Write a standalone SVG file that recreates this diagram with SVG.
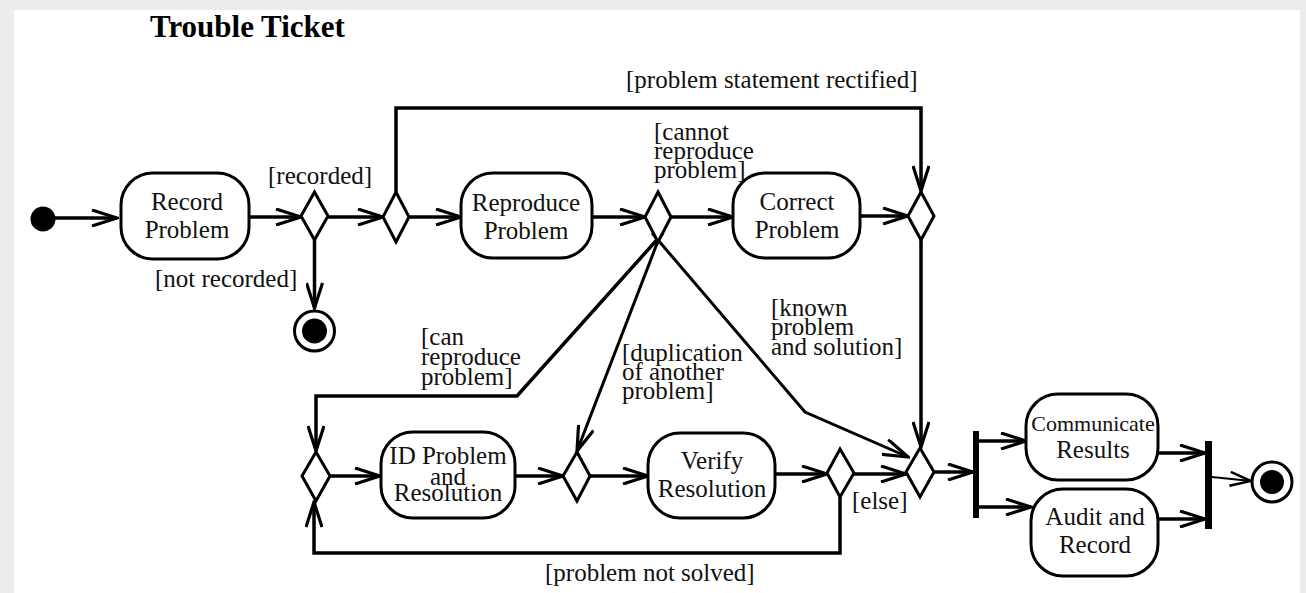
<svg xmlns="http://www.w3.org/2000/svg" width="1306" height="593" viewBox="0 0 1306 593">
<style>
.bg{fill:#ececec}
.page{fill:#fff}
.act{fill:#fff;stroke:#000;stroke-width:3}
.dec{fill:#fff;stroke:#000;stroke-width:3}
.bar{fill:#000}
.t{font-family:"Liberation Serif","Times New Roman",serif;font-size:25px;fill:#111}
.ts{font-family:"Liberation Serif","Times New Roman",serif;font-size:22px;fill:#111}
.c{text-anchor:middle}
.title{font-family:"Liberation Serif","Times New Roman",serif;font-size:31px;font-weight:bold;fill:#000}
.e{fill:none;stroke:#000;stroke-width:3.5;stroke-linejoin:miter}
.m{fill:none;stroke:#000;stroke-width:3}
.thin{fill:none;stroke:#000;stroke-width:2}
</style>
<defs>
<marker id="ah" viewBox="0 0 28 18" markerWidth="28" markerHeight="18" refX="26" refY="9" orient="auto" markerUnits="userSpaceOnUse">
<path d="M1,1 L26,9 L1,17" fill="none" stroke="#000" stroke-width="3.2"/>
</marker>
<marker id="ahs" viewBox="0 0 24 16" markerWidth="24" markerHeight="16" refX="22" refY="8" orient="auto" markerUnits="userSpaceOnUse">
<path d="M1,1 L22,8 L1,15" fill="none" stroke="#000" stroke-width="2.5"/>
</marker>
</defs>
<rect class="bg" x="0" y="0" width="1306" height="593"/>
<rect class="page" x="14" y="10" width="1286" height="583"/>
<text class="title" x="150" y="37">Trouble Ticket</text>

<g id="connectors">
<line class="e" x1="55" y1="218" x2="117" y2="218" marker-end="url(#ah)"/>
<line class="e" x1="249" y1="217" x2="301" y2="217" marker-end="url(#ah)"/>
<line class="e" x1="314.5" y1="240" x2="314.5" y2="308" marker-end="url(#ah)"/>
<line class="e" x1="328" y1="217" x2="383" y2="217" marker-end="url(#ah)"/>
<polyline class="e" points="396,192 396,108 921,108 921,191" marker-end="url(#ah)"/>
<line class="e" x1="409" y1="217" x2="461" y2="217" marker-end="url(#ah)"/>
<line class="e" x1="592" y1="217" x2="645" y2="217" marker-end="url(#ah)"/>
<line class="e" x1="671" y1="217" x2="733" y2="217" marker-end="url(#ah)"/>
<line class="e" x1="860" y1="216" x2="908" y2="216" marker-end="url(#ah)"/>
<line class="e" x1="921" y1="240" x2="921" y2="447" marker-end="url(#ah)"/>
<polyline class="e" points="663,233 517,396 316,396 316,451" marker-end="url(#ah)"/>
<line class="m" x1="658" y1="241" x2="577" y2="451" marker-end="url(#ah)"/>
<polyline class="m" points="652,233 805,412 908,457" marker-end="url(#ah)"/>
<line class="e" x1="330" y1="476" x2="380" y2="476" marker-end="url(#ah)"/>
<line class="e" x1="515" y1="476" x2="563" y2="476" marker-end="url(#ah)"/>
<line class="e" x1="590" y1="476" x2="648" y2="476" marker-end="url(#ah)"/>
<line class="e" x1="775" y1="474" x2="827" y2="474" marker-end="url(#ah)"/>
<line class="e" x1="854" y1="474" x2="906" y2="474" marker-end="url(#ah)"/>
<polyline class="e" points="840,497 840,553 314,553 314,502" marker-end="url(#ah)"/>
<line class="e" x1="934" y1="472" x2="973" y2="472" marker-end="url(#ah)"/>
<line class="e" x1="979" y1="441" x2="1026" y2="441" marker-end="url(#ah)"/>
<line class="e" x1="979" y1="507" x2="1031" y2="507" marker-end="url(#ah)"/>
<line class="e" x1="1158" y1="453" x2="1205" y2="453" marker-end="url(#ah)"/>
<line class="e" x1="1158" y1="519" x2="1205" y2="519" marker-end="url(#ah)"/>
<line class="thin" x1="1212" y1="477" x2="1251" y2="481" marker-end="url(#ahs)"/>
</g>

<g id="labels">
<text class="t" x="268" y="184">[recorded]</text>
<text class="t" x="155" y="287">[not recorded]</text>
<text class="t" x="626" y="88">[problem statement rectified]</text>
<text class="t" x="654" y="140">[cannot<tspan x="654" dy="19">reproduce</tspan><tspan x="654" dy="19">problem]</tspan></text>
<text class="t" x="421" y="345">[can<tspan x="421" dy="20">reproduce</tspan><tspan x="421" dy="20">problem]</tspan></text>
<text class="t" x="622" y="361">[duplication<tspan x="622" dy="19">of another</tspan><tspan x="622" dy="19">problem]</tspan></text>
<text class="t" x="771" y="316">[known<tspan x="771" dy="19">problem</tspan><tspan x="771" dy="20">and solution]</tspan></text>
<text class="t" x="852" y="509">[else]</text>
<text class="t" x="545" y="581">[problem not solved]</text>
</g>

<g id="start"><circle cx="43" cy="219" r="12.5" fill="#000"/></g>
<g id="end1"><circle cx="314.5" cy="331" r="20" fill="#fff" stroke="#000" stroke-width="3"/><circle cx="314.5" cy="331" r="12.5" fill="#000"/></g>
<g id="end2"><circle cx="1272" cy="482" r="20" fill="#fff" stroke="#000" stroke-width="3"/><circle cx="1272" cy="482" r="12" fill="#000"/></g>

<g id="record"><rect class="act" x="121" y="173" width="128" height="86" rx="32"/><text class="t c" x="187" y="210">Record<tspan x="187" dy="28">Problem</tspan></text></g>
<g id="reproduce"><rect class="act" x="461" y="173" width="131" height="85" rx="32"/><text class="t c" x="526" y="211">Reproduce<tspan x="526" dy="28">Problem</tspan></text></g>
<g id="correct"><rect class="act" x="733" y="173" width="127" height="85" rx="32"/><text class="t c" x="797" y="210">Correct<tspan x="797" dy="28">Problem</tspan></text></g>
<g id="idproblem"><rect class="act" x="381" y="432" width="134" height="86" rx="32"/><text class="t c" x="448" y="464">ID Problem<tspan x="448" dy="21">and</tspan><tspan x="448" dy="16">Resolution</tspan></text></g>
<g id="verify"><rect class="act" x="648" y="433" width="127" height="85" rx="32"/><text class="t c" x="712" y="469">Verify<tspan x="712" dy="28">Resolution</tspan></text></g>
<g id="communicate"><rect class="act" x="1026" y="394" width="132" height="86" rx="32"/><text class="ts c" x="1093" y="431">Communicate</text><text class="t c" x="1093" y="458">Results</text></g>
<g id="audit"><rect class="act" x="1031" y="489" width="127" height="87" rx="32"/><text class="t c" x="1095" y="525">Audit and<tspan x="1095" dy="28">Record</tspan></text></g>

<g id="d1"><polygon class="dec" points="314.5,192 328,216 314.5,240 301,216"/></g>
<g id="d2"><polygon class="dec" points="396,192 409,217 396,242 383,217"/></g>
<g id="d3"><polygon class="dec" points="658,192 671,217 658,242 645,217"/></g>
<g id="d5"><polygon class="dec" points="921,192 934,216 921,240 908,216"/></g>
<g id="d4"><polygon class="dec" points="316,452 330,476 316,501 302,476"/></g>
<g id="dmerge"><polygon class="dec" points="577,452 590,476 577,501 563,476"/></g>
<g id="d7"><polygon class="dec" points="840,449 854,473 840,497 827,473"/></g>
<g id="d6"><polygon class="dec" points="920,448 934,472 920,497 906,472"/></g>

<g id="fork"><rect class="bar" x="973" y="431" width="6" height="87"/></g>
<g id="join"><rect class="bar" x="1205" y="441" width="7" height="88"/></g>
</svg>
